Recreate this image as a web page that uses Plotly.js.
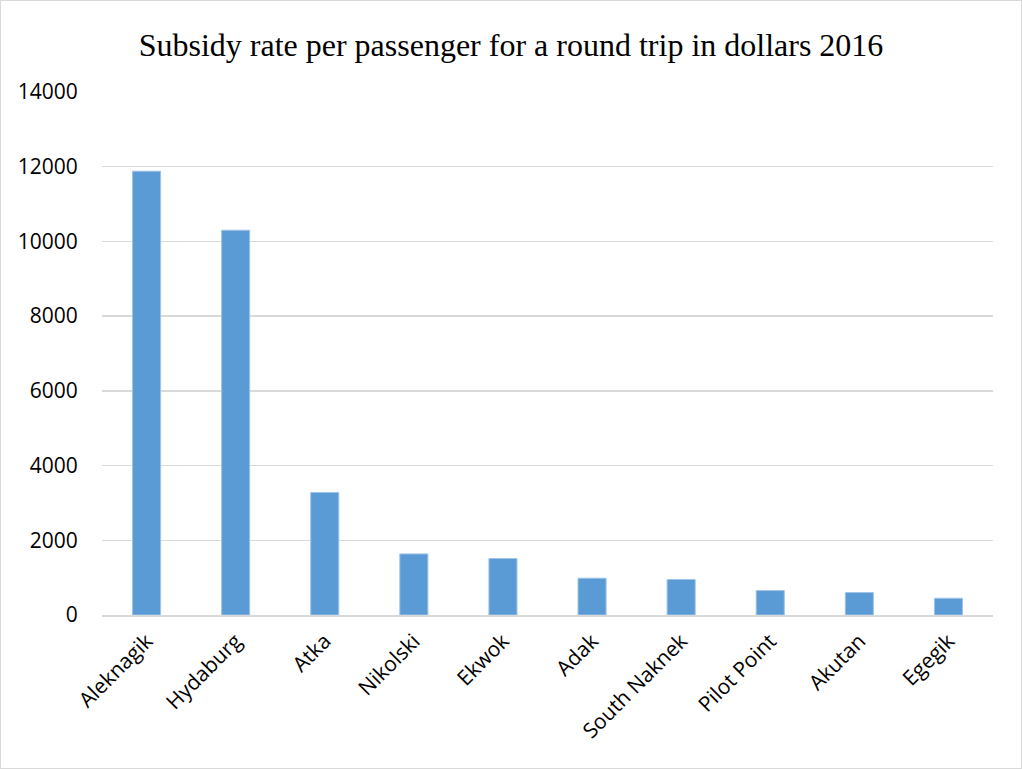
<!DOCTYPE html>
<html>
<head>
<meta charset="utf-8">
<script src="https://cdn.plot.ly/plotly-3.0.1.min.js"></script>
<style>
html, body { margin: 0; padding: 0; background: #fff; }
#chart { width: 1022px; height: 769px; box-sizing: border-box; border: 1px solid #d9d9d9; }
</style>
</head>
<body>
<div id="chart"></div>
<script>
const categories = ["Aleknagik", "Hydaburg", "Atka", "Nikolski", "Ekwok", "Adak", "South Naknek", "Pilot Point", "Akutan", "Egegik"];
const subsidy = [11880, 10300, 3280, 1635, 1512, 984, 950, 654, 600, 448];
const yTicks = [0, 2000, 4000, 6000, 8000, 10000, 12000, 14000];
const titleText = "Subsidy rate per passenger for a round trip in dollars 2016";

const trace = {
  type: "bar",
  x: categories,
  y: subsidy,
  marker: { color: "#5B9BD5", line: { color: "#9DC3E6", width: 1 } },
  hoverinfo: "x+y"
};

const layout = {
  width: 1020,
  height: 767,
  margin: { l: 101, r: 28, t: 91, b: 153 },
  paper_bgcolor: "#ffffff",
  plot_bgcolor: "#ffffff",
  bargap: 0.685,
  showlegend: false,
  title: {
    text: titleText,
    font: { family: "Liberation Serif, Times New Roman, serif", size: 32, color: "#000000" },
    x: 0.5, xanchor: "center",
    y: 0.943, yanchor: "middle", yref: "container"
  },
  xaxis: {
    type: "category",
    tickangle: -45,
    tickfont: { family: "Open Sans, Liberation Sans, sans-serif", size: 21, color: "#000000" },
    showgrid: false,
    showline: true,
    linecolor: "#d9d9d9",
    linewidth: 1.5,
    ticks: "outside",
    ticklen: 4,
    tickcolor: "rgba(0,0,0,0)"
  },
  yaxis: {
    range: [0, 14000],
    tickmode: "array",
    tickvals: yTicks,
    ticktext: yTicks.map(String),
    tickfont: { family: "Open Sans, Liberation Sans, sans-serif", size: 21, color: "#000000" },
    showgrid: true,
    gridcolor: "#d9d9d9",
    gridwidth: 1.5,
    zeroline: false,
    showline: false,
    ticks: "outside",
    ticklen: 19,
    tickcolor: "rgba(0,0,0,0)"
  }
};

Plotly.newPlot("chart", [trace], layout, { displayModeBar: false, staticPlot: true });
</script>
</body>
</html>
